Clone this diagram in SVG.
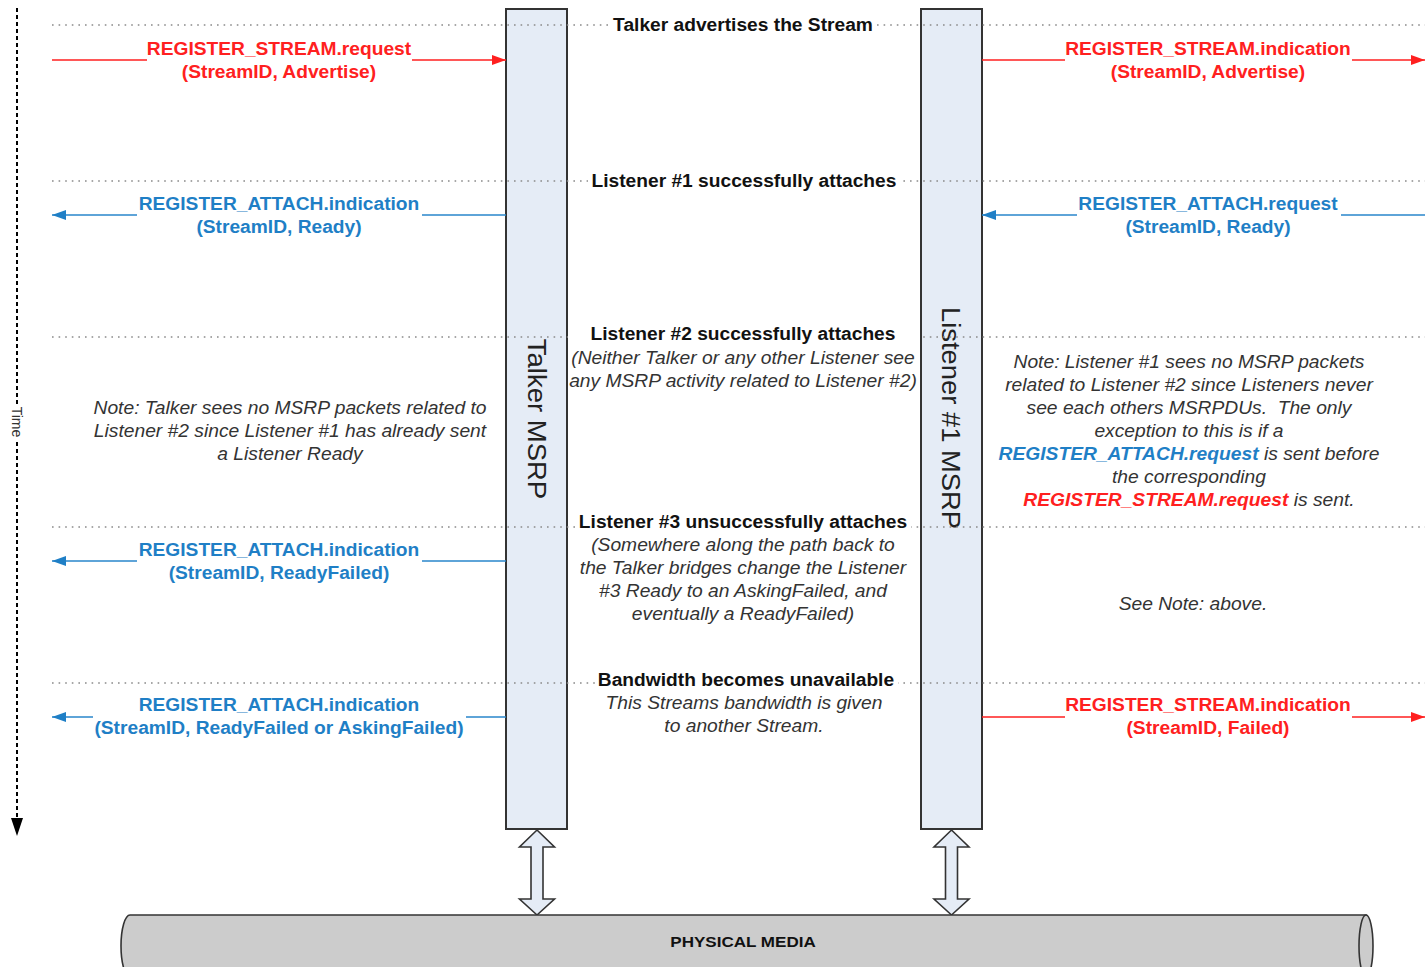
<svg xmlns="http://www.w3.org/2000/svg" width="1425" height="967" viewBox="0 0 1425 967">
<style>
text{font-family:"Liberation Sans",Arial,sans-serif}
.hdr{font-size:18px;font-weight:bold;fill:#111;text-anchor:middle}
.it{font-size:17.5px;font-style:italic;fill:#333;text-anchor:middle}
.msgr{font-size:18px;font-weight:bold;fill:#ff2020;text-anchor:middle}
.msgb{font-size:18px;font-weight:bold;fill:#1f7fc6;text-anchor:middle}
.dot{stroke:#8a8a8a;stroke-width:1.6;stroke-dasharray:1.6 5;fill:none}
.life{fill:#e5ecf6;stroke:#333;stroke-width:2}
.lbl{font-size:25px;fill:#222;text-anchor:middle;dominant-baseline:central}
.cr{stroke:#ff2020;stroke-width:1.5;fill:none;marker-end:url(#ar)}
.cb{stroke:#2a87cc;stroke-width:1.5;fill:none;marker-end:url(#ab)}
.wb{fill:#fff}
.blk{fill:#e5ecf6;stroke:#333;stroke-width:1.6}
</style>
<defs>
<marker id="ar" markerUnits="userSpaceOnUse" markerWidth="15" markerHeight="10" refX="14" refY="5" orient="auto"><path d="M0,0 L14,5 L0,10 z" fill="#ff2020"/></marker>
<marker id="ab" markerUnits="userSpaceOnUse" markerWidth="15" markerHeight="10" refX="14" refY="5" orient="auto"><path d="M0,0 L14,5 L0,10 z" fill="#1f7fc6"/></marker>
</defs>
<rect width="1425" height="967" fill="#fff"/>

<g id="time-axis">
<line x1="17" y1="8" x2="17" y2="818" stroke="#000" stroke-width="2" stroke-dasharray="4 3"/>
<polygon points="11,818 23,818 17,836" fill="#000"/>
<rect x="9" y="404" width="16" height="37" class="wb"/>
<text x="17" y="422" transform="rotate(90 17 422)" font-size="14" fill="#333" text-anchor="middle" dominant-baseline="central">Time</text>
</g>

<g id="talker-msrp">
<rect x="506" y="9" width="61" height="820" class="life"/>
<text x="0" y="0" transform="translate(537 419) rotate(90) scale(1.1 1)" class="lbl">Talker MSRP</text>
</g>
<g id="listener1-msrp">
<rect x="921" y="9" width="61" height="820" class="life"/>
<text x="0" y="0" transform="translate(951 418) rotate(90) scale(1.095 1)" class="lbl">Listener #1 MSRP</text>
</g>

<g id="separators">
<line x1="52" y1="25" x2="1425" y2="25" class="dot"/>
<line x1="52" y1="181" x2="1425" y2="181" class="dot"/>
<line x1="52" y1="337" x2="1425" y2="337" class="dot"/>
<line x1="52" y1="527" x2="1425" y2="527" class="dot"/>
<line x1="52" y1="683" x2="1425" y2="683" class="dot"/>
</g>

<g id="phase-labels">
<rect x="608" y="15" width="269" height="20" class="wb"/>
<rect x="588" y="171" width="312" height="20" class="wb"/>
<rect x="568" y="324" width="351" height="20" class="wb"/>
<rect x="576" y="512" width="335" height="20" class="wb"/>
<rect x="595" y="670" width="303" height="20" class="wb"/>
<g transform="scale(1.066 1)">
<text x="697" y="31" class="hdr">Talker advertises the Stream</text>
<text x="697.9" y="187" class="hdr">Listener #1 successfully attaches</text>
<text x="697" y="340" class="hdr">Listener #2 successfully attaches</text>
<text x="697" y="528" class="hdr">Listener #3 unsuccessfully attaches</text>
<text x="699.8" y="686" class="hdr">Bandwidth becomes unavailable</text>
</g>
<g transform="scale(1.1 1)">
<text x="675.45" y="364" class="it">(Neither Talker or any other Listener see</text>
<text x="675.45" y="387" class="it">any MSRP activity related to Listener #2)</text>
<text x="675.45" y="551" class="it">(Somewhere along the path back to</text>
<text x="675.45" y="574" class="it">the Talker bridges change the Listener</text>
<text x="675.45" y="597" class="it">#3 Ready to an AskingFailed, and</text>
<text x="675.45" y="620" class="it">eventually a ReadyFailed)</text>
<text x="676.36" y="709" class="it">This Streams bandwidth is given</text>
<text x="676.36" y="732" class="it">to another Stream.</text>
</g>
</g>

<g id="connectors">
<path d="M52,60 H147 M412,60 H506" class="cr"/>
<path d="M982,60 H1065 M1352,60 H1425" class="cr"/>
<path d="M506,215 H422 M137,215 H52" class="cb"/>
<path d="M1425,215 H1341 M1077,215 H982" class="cb"/>
<path d="M506,561 H422 M137,561 H52" class="cb"/>
<path d="M506,717 H466 M93,717 H52" class="cb"/>
<path d="M982,717 H1065 M1352,717 H1425" class="cr"/>
</g>

<g id="msg-labels" transform="scale(1.066 1)">
<text x="261.73" y="55" class="msgr">REGISTER_STREAM.request</text>
<text x="261.73" y="78" class="msgr">(StreamID, Advertise)</text>
<text x="1133.2" y="55" class="msgr">REGISTER_STREAM.indication</text>
<text x="1133.2" y="78" class="msgr">(StreamID, Advertise)</text>
<text x="261.73" y="210" class="msgb">REGISTER_ATTACH.indication</text>
<text x="261.73" y="233" class="msgb">(StreamID, Ready)</text>
<text x="1133.2" y="210" class="msgb">REGISTER_ATTACH.request</text>
<text x="1133.2" y="233" class="msgb">(StreamID, Ready)</text>
<text x="261.73" y="556" class="msgb">REGISTER_ATTACH.indication</text>
<text x="261.73" y="579" class="msgb">(StreamID, ReadyFailed)</text>
<text x="261.73" y="711" class="msgb">REGISTER_ATTACH.indication</text>
<text x="261.73" y="734" class="msgb">(StreamID, ReadyFailed or AskingFailed)</text>
<text x="1133.2" y="711" class="msgr">REGISTER_STREAM.indication</text>
<text x="1133.2" y="734" class="msgr">(StreamID, Failed)</text>
</g>

<g id="talker-note" transform="scale(1.1 1)">
<text x="263.64" y="414" class="it">Note: Talker sees no MSRP packets related to</text>
<text x="263.64" y="437" class="it">Listener #2 since Listener #1 has already sent</text>
<text x="263.64" y="460" class="it">a Listener Ready</text>
</g>

<g id="listener-note" transform="scale(1.1 1)">
<text x="1080.9" y="368" class="it">Note: Listener #1 sees no MSRP packets</text>
<text x="1080.9" y="391" class="it">related to Listener #2 since Listeners never</text>
<text x="1080.9" y="414" class="it" xml:space="preserve">see each others MSRPDUs.  The only</text>
<text x="1080.9" y="437" class="it">exception to this is if a</text>
<text x="1080.9" y="460" class="it"><tspan font-weight="bold" fill="#1f7fc6">REGISTER_ATTACH.request</tspan> is sent before</text>
<text x="1080.9" y="483" class="it">the corresponding</text>
<text x="1080.9" y="506" class="it"><tspan font-weight="bold" fill="#ff2020">REGISTER_STREAM.request</tspan> is sent.</text>
<text x="1084.5" y="610" class="it">See Note: above.</text>
</g>

<g id="talker-link">
<path d="M537,830 L554.5,847 H543 V899 H554.5 L537,915 L519.5,899 H531 V847 H519.5 Z" class="blk"/>
</g>
<g id="listener-link">
<path d="M951.5,830 L969,847 H957.5 V899 H969 L951.5,915 L934,899 H945.5 V847 H934 Z" class="blk"/>
</g>

<g id="physical-media">
<path d="M1366,915 H130 A9,31 0 0 0 130,977 H1366 Z" fill="#cccccc" stroke="#333" stroke-width="1.6"/>
<ellipse cx="1366" cy="946" rx="7" ry="31" fill="#cccccc" stroke="#333" stroke-width="1.6"/>
<text x="0" y="0" transform="translate(743 947) scale(1.1 1)" font-size="15.5" font-weight="bold" fill="#111" text-anchor="middle">PHYSICAL MEDIA</text>
</g>
</svg>
